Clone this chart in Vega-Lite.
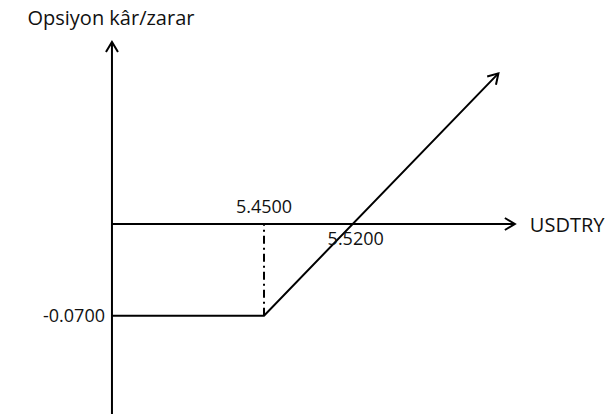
{
  "$schema": "https://vega.github.io/schema/vega-lite/v6.json",
  "width": 614,
  "height": 414,
  "padding": 0,
  "autosize": "none",
  "background": "white",
  "config": {"view": {"stroke": null}, "text": {"font": "Open Sans", "color": "#111"}},
  "datasets": {
    "axes": [
      {"axis": "vertical", "x1": 5.33, "x2": 5.33, "y1": -0.145, "y2": 0.139},
      {"axis": "horizontal", "x1": 5.33, "x2": 5.648, "y1": 0, "y2": 0}
    ],
    "strike": [{"x1": 5.45, "x2": 5.45, "y1": -0.07, "y2": 0}],
    "payoff": [
      {"usdtry": 5.33, "pnl": -0.07},
      {"usdtry": 5.45, "pnl": -0.07},
      {"usdtry": 5.635, "pnl": 0.115}
    ],
    "tips": [
      {"name": "vertical", "x": 5.33, "y": 0.139},
      {"name": "horizontal", "x": 5.648, "y": 0},
      {"name": "payoff", "x": 5.635, "y": 0.115}
    ]
  },
  "encoding": {
    "x": {"type": "quantitative", "scale": {"domain": [5.24163, 5.72624], "nice": false, "zero": false}, "axis": null},
    "y": {"type": "quantitative", "scale": {"domain": [-0.14504, 0.17099], "nice": false, "zero": false}, "axis": null}
  },
  "layer": [
    {
      "data": {"name": "axes"},
      "mark": {"type": "rule", "color": "#000", "strokeWidth": 2},
      "encoding": {"x": {"field": "x1"}, "x2": {"field": "x2"}, "y": {"field": "y1"}, "y2": {"field": "y2"}}
    },
    {
      "data": {"name": "strike"},
      "mark": {"type": "rule", "color": "#000", "strokeWidth": 2, "strokeDash": [8, 4, 2, 4]},
      "encoding": {"x": {"field": "x1"}, "y": {"field": "y1"}, "y2": {"field": "y2"}}
    },
    {
      "data": {"name": "payoff"},
      "mark": {"type": "line", "color": "#000", "strokeWidth": 2},
      "encoding": {"x": {"field": "usdtry"}, "y": {"field": "pnl"}}
    },
    {
      "data": {"name": "tips"},
      "transform": [{"filter": "datum.name === 'vertical'"}],
      "mark": {"type": "point", "shape": "M -0.6 1 L 0 0 L 0.6 1", "filled": false, "stroke": "#000", "strokeWidth": 2, "size": 400, "angle": 0, "opacity": 1},
      "encoding": {"x": {"field": "x"}, "y": {"field": "y"}}
    },
    {
      "data": {"name": "tips"},
      "transform": [{"filter": "datum.name === 'horizontal'"}],
      "mark": {"type": "point", "shape": "M -0.6 1 L 0 0 L 0.6 1", "filled": false, "stroke": "#000", "strokeWidth": 2, "size": 400, "angle": 90, "opacity": 1},
      "encoding": {"x": {"field": "x"}, "y": {"field": "y"}}
    },
    {
      "data": {"name": "tips"},
      "transform": [{"filter": "datum.name === 'payoff'"}],
      "mark": {"type": "point", "shape": "M -0.6 1 L 0 0 L 0.6 1", "filled": false, "stroke": "#000", "strokeWidth": 2, "size": 400, "angle": 43, "opacity": 1},
      "encoding": {"x": {"field": "x"}, "y": {"field": "y"}}
    },
    {
      "data": {"values": [{"label": "Opsiyon kâr/zarar", "x": 5.33, "y": 0.139}]},
      "mark": {"type": "text", "fontSize": 20, "align": "center", "baseline": "alphabetic", "dx": -1, "dy": -17},
      "encoding": {"x": {"field": "x"}, "y": {"field": "y"}, "text": {"field": "label"}}
    },
    {
      "data": {"values": [{"label": "USDTRY", "x": 5.648, "y": 0}]},
      "mark": {"type": "text", "fontSize": 20, "align": "left", "baseline": "alphabetic", "dx": 15, "dy": 8},
      "encoding": {"x": {"field": "x"}, "y": {"field": "y"}, "text": {"field": "label"}}
    },
    {
      "data": {"values": [{"label": "5.4500", "x": 5.45, "y": 0}]},
      "mark": {"type": "text", "fontSize": 18, "align": "center", "baseline": "alphabetic", "dx": 0, "dy": -11},
      "encoding": {"x": {"field": "x"}, "y": {"field": "y"}, "text": {"field": "label"}}
    },
    {
      "data": {"values": [{"label": "5.5200", "x": 5.52, "y": 0}]},
      "mark": {"type": "text", "fontSize": 18, "align": "center", "baseline": "alphabetic", "dx": 3, "dy": 21},
      "encoding": {"x": {"field": "x"}, "y": {"field": "y"}, "text": {"field": "label"}}
    },
    {
      "data": {"values": [{"label": "-0.0700", "x": 5.33, "y": -0.07}]},
      "mark": {"type": "text", "fontSize": 18, "align": "right", "baseline": "alphabetic", "dx": -7, "dy": 6},
      "encoding": {"x": {"field": "x"}, "y": {"field": "y"}, "text": {"field": "label"}}
    }
  ]
}
